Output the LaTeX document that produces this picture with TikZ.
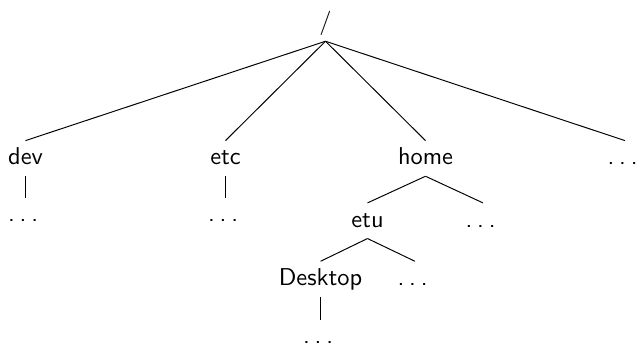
\documentclass[tikz,border=0pt]{standalone}
\newcommand{\mydots}{.\kern.2em.\kern.2em.\kern.2em}
\begin{document}
\begin{tikzpicture}[x=0.41pt,y=-0.41pt,
  tn/.style={anchor=base,font=\sffamily,text height=1.5ex,text depth=.25ex,inner sep=.3333em},
  br/.style={line width=0.4pt}]
\useasboundingbox (0,0) rectangle (636,345);
\node[tn] (root) at (325.5,30) {/};
\node[tn] (dev) at (25.5,165) {dev};
\node[tn] (etc) at (225.5,165) {etc};
\node[tn] (home) at (425.5,165) {home};
\node[tn] (more) at (625,165) {\mydots};
\node[tn] (devd) at (25.5,222) {\mydots};
\node[tn] (etcd) at (225.5,222) {\mydots};
\node[tn] (etu) at (367.5,227.3) {etu};
\node[tn] (homed) at (483,227.3) {\mydots};
\node[tn] (desk) at (320.5,285.7) {Desktop};
\node[tn] (etud) at (415,285.7) {\mydots};
\node[tn] (deskd) at (320.5,344) {\mydots};
\draw[br] (root.south) -- (dev.north);
\draw[br] (root.south) -- (etc.north);
\draw[br] (root.south) -- (home.north);
\draw[br] (root.south) -- (more.north);
\draw[br] (dev.south) -- (devd.north);
\draw[br] (etc.south) -- (etcd.north);
\draw[br] (home.south) -- (etu.north);
\draw[br] (home.south) -- (homed.north);
\draw[br] (etu.south) -- (desk.north);
\draw[br] (etu.south) -- (etud.north);
\draw[br] (desk.south) -- (deskd.north);
\end{tikzpicture}
\end{document}
